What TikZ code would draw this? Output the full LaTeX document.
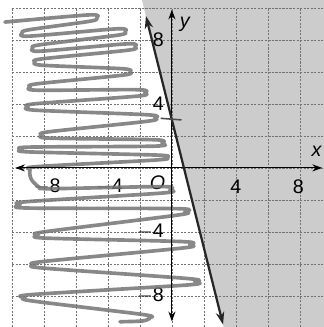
\documentclass[tikz,border=0pt]{standalone}
\usepackage{fontspec}
\setmainfont{Liberation Sans}
\usetikzlibrary{arrows.meta}

\begin{document}
\begin{tikzpicture}[
  x=0.4cm, y=0.4cm,
  gridln/.style={dash pattern=on 1.5pt off 1pt, line width=0.4pt, black!55},
  axis/.style={{Stealth[length=7pt,width=5pt]}-{Stealth[length=7pt,width=5pt]}, line width=0.8pt},
  bound/.style={{Stealth[length=9pt,width=6pt]}-{Stealth[length=9pt,width=6pt]}, line width=1.6pt, black!85},
  lbl/.style={font=\fontsize{14}{16}\selectfont, inner sep=1pt},
  scrib/.style={line width=2.6pt, black!55, opacity=0.85, line join=round, line cap=round}
]
\useasboundingbox (-10.75,-9.95) rectangle (9.5,10.5);

% shaded half-plane
\fill[gray!40] (-1.875,10.5) -- (9.5,10.5) -- (9.5,-9.95) -- (3.2375,-9.95) -- cycle;

% grid
\foreach \gx in {-10,-8,...,8} \draw[gridln] (\gx,-9.95) -- (\gx,10);
\foreach \gy in {-8,-6,...,10} \draw[gridln] (-10,\gy) -- (9.5,\gy);

% labels
\node[lbl, anchor=east] (ly8) at (-0.4,8) {8};
\node[lbl, anchor=east] (ly4) at (-0.4,4) {4};
\node[lbl, anchor=east] (lym4) at (-0.4,-4) {$-$4};
\node[lbl, anchor=east] (lym8) at (-0.4,-8) {$-$8};
\node[lbl] (lxm8) at (-7.8,-1.15) {$-$8};
\node[lbl] (lxm4) at (-3.9,-1.15) {$-$4};
\node[lbl] (lx4) at (4,-1.15) {4};
\node[lbl] (lx8) at (7.9,-1.15) {8};
\node[lbl, font=\fontsize{14}{16}\selectfont\itshape] (orig) at (-0.9,-0.95) {O};
\node[lbl, font=\fontsize{14}{16}\selectfont\itshape] (xlab) at (9.05,1.05) {x};
\node[lbl, font=\fontsize{14}{16}\selectfont\itshape] (ylab) at (0.8,8.95) {y};

% pencil scribble
\draw[scrib] plot[smooth, tension=0.5] coordinates {
  (-10.44,9.12)
  (-5.14,9.57) (-4.69,9.37) (-5.14,9.17)
  (-8.92,8.64) (-9.37,8.44) (-8.92,8.24)
  (-3.39,8.7) (-2.94,8.5) (-3.39,8.3)
  (-8.24,7.7) (-8.69,7.5) (-8.24,7.3)
  (-2.76,7.76) (-2.31,7.56) (-2.76,7.36)
  (-8.11,6.82) (-8.56,6.62) (-8.11,6.42)
  (-3.07,6.2) (-2.62,6.0) (-3.07,5.8)
  (-8.42,5.26) (-8.87,5.06) (-8.42,4.86)
  (-2.14,4.89) (-1.69,4.69) (-2.14,4.49)
  (-8.55,4.01) (-9.0,3.81) (-8.55,3.61)
  (-1.51,3.32) (-1.06,3.12) (-1.51,2.92)
  (-7.67,2.26) (-8.12,2.06) (-7.67,1.86)
  (-1.07,1.76) (-0.62,1.56) (-1.07,1.36)
  (-8.92,1.3) (-9.37,1.15) (-8.92,1.0)
  (-0.89,0.8) (-0.44,0.65) (-0.89,0.5)
  (-8.42,0.08) (-8.87,-0.12) (-8.8,-0.7) (-8.3,-1.2) (-7.6,-1.3)
  (-0.57,-1.17) (-0.12,-1.37) (-0.57,-1.57)
  (-9.05,-2.11) (-9.5,-2.31) (-9.05,-2.51)
  (0.36,-2.55) (0.81,-2.75) (0.36,-2.95)
  (-7.92,-3.99) (-8.37,-4.19) (-7.92,-4.39)
  (0.67,-4.61) (1.12,-4.81) (0.67,-5.01)
  (-8.11,-5.86) (-8.56,-6.06) (-8.11,-6.26)
  (0.99,-6.92) (1.44,-7.12) (0.99,-7.32)
  (-8.74,-7.92) (-9.19,-8.12) (-8.74,-8.32)
  (-1.82,-9.17) (-1.37,-9.37) (-1.82,-9.57)
  (-3.25,-9.62)};

% axes
\draw[axis] (-9.8,0) -- (9.4,0);
\draw[axis] (0,-9.6) -- (0,9.9);

% boundary line y = -4x + 3
\draw[bound] (-1.625,9.5) -- (3.2,-9.8);
\draw[line width=1.1pt, black!70] (-0.7,3.1) -- (0.6,3.0);
\end{tikzpicture}
\end{document}
